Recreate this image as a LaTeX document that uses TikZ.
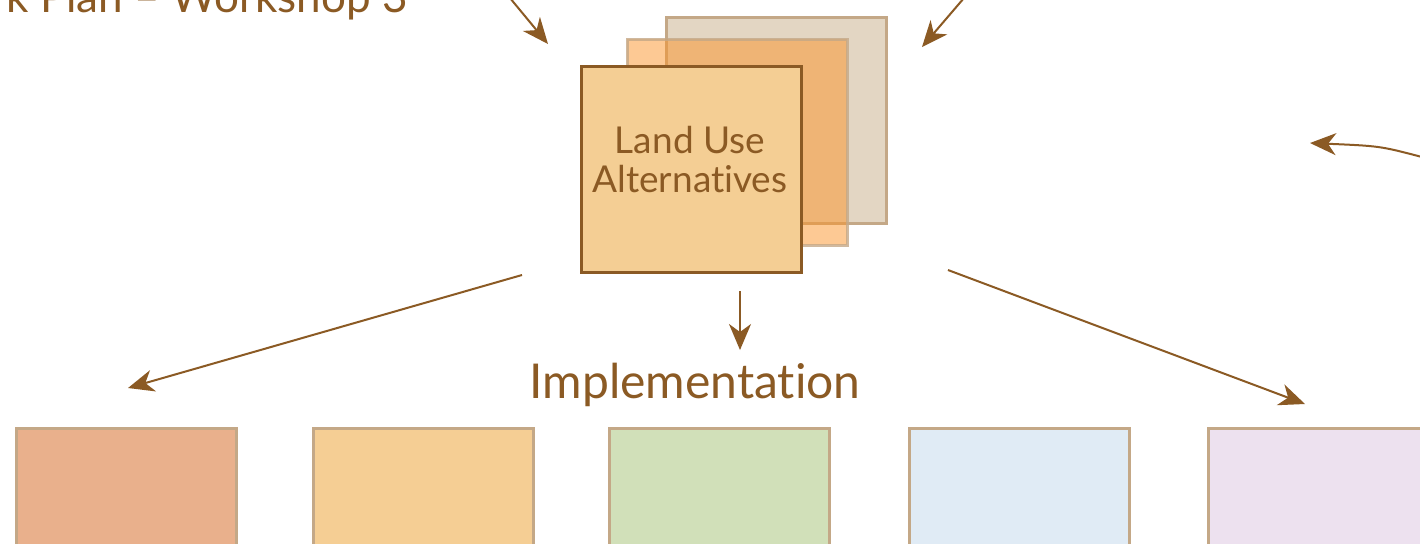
\documentclass[tikz,border=0pt]{standalone}
\usepackage{fontspec}
\setmainfont{Lato}[Ligatures=NoCommon]
\usepackage{tikz}
\usetikzlibrary{arrows.meta}
\usetikzlibrary{calc}
\usetikzlibrary{positioning}

\definecolor{brownline}{HTML}{8B5A24}
\definecolor{tanline}{HTML}{C4A887}
\definecolor{sheetback}{HTML}{E3D6C3}
\definecolor{sheetmid}{HTML}{FB9329}
\definecolor{sheetfront}{HTML}{F4CE94}
\definecolor{boxred}{HTML}{E9B08C}
\definecolor{boxyellow}{HTML}{F5CE94}
\definecolor{boxgreen}{HTML}{D1E0B9}
\definecolor{boxblue}{HTML}{E0EBF5}
\definecolor{boxviolet}{HTML}{EDE1EF}

\tikzset{
	flow/.style={draw=brownline, line width=1pt, -{Stealth[length=13pt, width=11pt, inset=4pt]}},
	sheet/.style={draw=tanline, line width=1.3pt, minimum width=110pt, minimum height=103pt, inner sep=0pt, anchor=north west},
	theme/.style={draw=tanline, line width=1.3pt, minimum width=110pt, minimum height=70pt, inner sep=0pt, anchor=north west},
	label/.style={text=brownline, font=\fontsize{24}{28}\selectfont, inner sep=0pt}
}

\begin{document}
\begin{tikzpicture}[x=0.5pt, y=-0.5pt]
		\useasboundingbox (0,0) rectangle (1420,543);
		\clip (0,0) rectangle (1420,543);
		% stacked alternatives
		\node[sheet, fill=sheetback] (back) at (665,16) {};
		\node[sheet, draw opacity=0.8, fill=sheetmid, fill opacity=0.5] (mid) at (626,38) {};
		\node[sheet, draw=brownline, fill=sheetfront] (alt) at (580,65) {};
		\node[text=brownline, align=center, font=\fontsize{18.5}{19.5}\selectfont] (altname) at (690,160) {Land Use\\Alternatives};
		% titles
		\node[label, anchor=base east, font=\fontsize{22}{26}\selectfont] (title) at (408,12) {k Plan – Workshop 3};
		\node[label, anchor=base] (impl) at (695,398) {Implementation};
		% theme boxes
		\node[theme, fill=boxred] (t1) at (15,427) {};
		\node[theme, fill=boxyellow] (t2) at (312,427) {};
		\node[theme, fill=boxgreen] (t3) at (608,427) {};
		\node[theme, fill=boxblue] (t4) at (908,427) {};
		\node[theme, fill=boxviolet] (t5) at (1207,427) {};
		% connector ends
		\coordinate (inL) at (510,-2);
		\coordinate (inLend) at (548,44);
		\coordinate (inR) at (964,-2);
		\coordinate (inRend) at (922,47);
		\coordinate (inC) at (1422,157);
		\coordinate (inCend) at (1310,143);
		\coordinate (outL) at (522,275);
		\coordinate (outLend) at (128,388);
		\coordinate (outM) at (740,291);
		\coordinate (outMend) at (740,350);
		\coordinate (outR) at (948,270);
		\coordinate (outRend) at (1305,404);
		% arrows
		\draw[flow] (inL) -- (inLend);
		\draw[flow] (inR) -- (inRend);
		\draw[flow] (inC) .. controls (1380,146) .. (inCend);
		\draw[flow] (outL) -- (outLend);
		\draw[flow] (outM) -- (outMend);
		\draw[flow] (outR) -- (outRend);
\end{tikzpicture}
\end{document}
